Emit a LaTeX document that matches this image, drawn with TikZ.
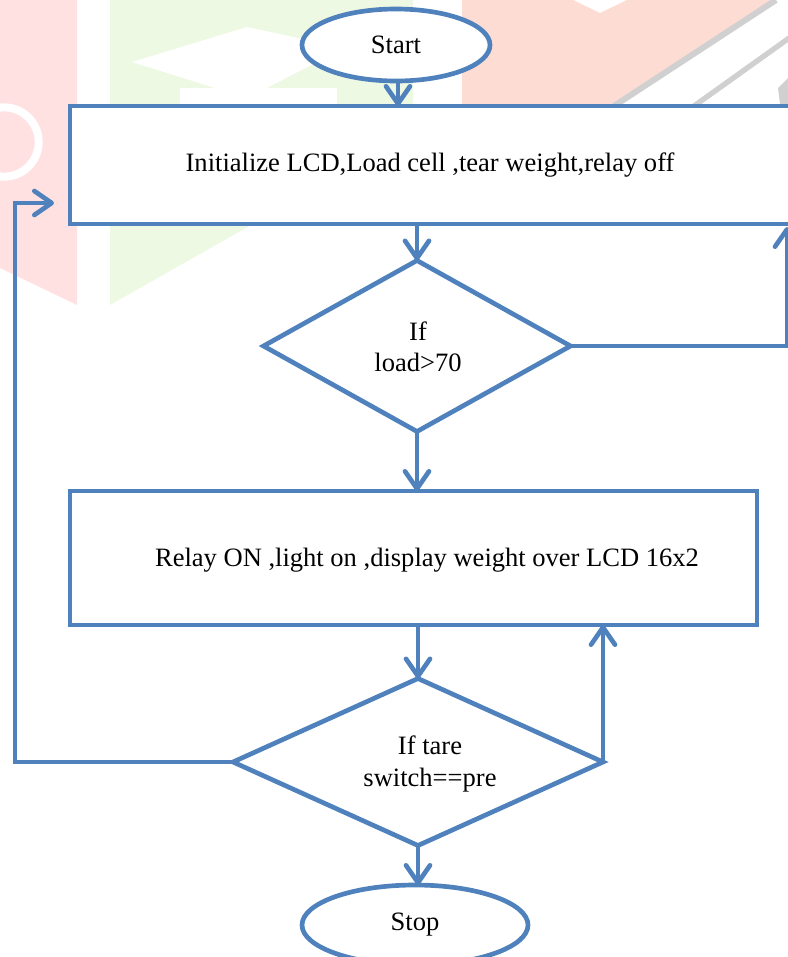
\documentclass[tikz,border=0pt]{standalone}
\usepackage{fontspec}
\setmainfont{Liberation Serif}
\usetikzlibrary{shapes.geometric,arrows.meta}
\definecolor{fcblue}{HTML}{4F81BD}
\definecolor{wmpink}{HTML}{FFE1E1}
\definecolor{wmgreen}{HTML}{EEF9E3}
\definecolor{wmsalmon}{HTML}{FDDCD3}
\definecolor{wmgray}{HTML}{D0D0D0}
\newcommand\flowfont{\fontsize{19.9pt}{23.3pt}\selectfont}
\tikzset{
  fcbase/.style={draw=fcblue, line width=3.5pt, fill=white, inner sep=0pt, outer sep=0pt, font=\flowfont, align=center},
  term/.style={fcbase, ellipse},
  proc/.style={fcbase, rectangle},
  dec/.style={fcbase, diamond},
  lbl/.style={inner sep=0pt, outer sep=0pt, align=center, font=\flowfont},
  arr/.style={draw=fcblue, line width=3.5pt, -{Straight Barb[length=13pt,width=18pt,round]}},
}
\begin{document}
\begin{tikzpicture}[x=0.75pt,y=-0.75pt]
\useasboundingbox (0,0) rectangle (788,957);
\clip (0,0) rectangle (788,957);
% faint watermark background
\fill[wmpink] (0,0) -- (77,0) -- (77,305) -- (0,268) -- cycle;
\draw[white, line width=6pt] (4,142) circle[radius=26pt];
\fill[wmgreen] (110,0) -- (413,0) -- (413,224) -- (253,224) -- (110,305) -- cycle;
\fill[white] (132,62) -- (247,27) -- (345,48) -- (247,98) -- cycle;
\fill[white] (180,88) rectangle (337,106);
\fill[wmsalmon] (462,0) -- (573,0) -- (600,13) -- (627,0) -- (772,0) -- (609,106) -- (462,106) -- cycle;
\draw[wmgray, line width=4.5pt] (776,0) -- (614,106);
\draw[wmgray, line width=4pt] (792,36) -- (694,106);
\fill[wmgray] (778,88) -- (788,78) -- (788,104) -- (780,104) -- cycle;

% nodes
\node[term, minimum width=141pt, minimum height=54pt] (start) at (396,45) {Start};
\node[proc, minimum width=540pt, minimum height=88.5pt] (b1) at (430,165) {Initialize LCD,Load cell ,tear weight,relay off};
\node[dec, minimum width=230.25pt, minimum height=128.25pt] (d1) at (417,346) {};
\node[lbl] (d1t) at (418,347) {If\\load>70};
\node[proc, minimum width=515.25pt, minimum height=100.5pt] (b2) at (413.5,558) {};
\node[lbl] (b2t) at (427,560) {Relay ON ,light on ,display weight over LCD 16x2};
\node[dec, minimum width=277.5pt, minimum height=125.25pt] (d2) at (418,762) {};
\node[lbl] (d2t) at (430,764) {If tare\\switch==pre};
\node[term, minimum width=169.5pt, minimum height=60pt] (stop) at (415,925) {Stop};

\coordinate (lft) at (15,203);
\coordinate (lin) at (54,203);
\coordinate (rgt) at (787,227);

% connectors
\draw[arr] ([xshift=1.5pt]start.south) -- ([xshift=1.5pt]start.south |- b1.north);
\draw[arr] (d1.north |- b1.south) -- (d1.north);
\draw[arr] (d1.south) -- (d1.south |- b2.north);
\draw[arr] (d2.north |- b2.south) -- (d2.north);
\draw[arr] (d2.east) -- (d2.east |- b2.south);
\draw[arr] (d2.west) -| (lft) -- (lin);
\draw[arr] (d1.east) -| (rgt);
\draw[arr] (d2.south) -- (d2.south |- stop.north);
\end{tikzpicture}
\end{document}
